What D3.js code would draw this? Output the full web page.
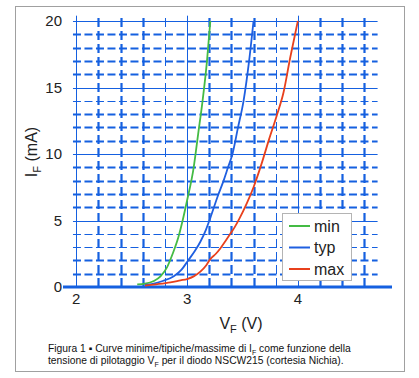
<!DOCTYPE html>
<html><head><meta charset="utf-8">
<script src="https://cdn.jsdelivr.net/npm/d3@7"></script>
<style>
html,body{margin:0;padding:0;background:#fff;}
svg{display:block;font-family:"Liberation Sans",Arial,sans-serif;}
</style></head>
<body><svg id="c" width="419" height="378"></svg>
<script>
// ---- data ----
const seriesNames = ["min", "typ", "max"];
const minCurve = [[2.55,0.2],[2.62,0.25],[2.70,0.45],[2.76,0.8],[2.82,1.5],[2.87,2.5],[2.92,3.7],[2.96,5.0],[3.00,6.5],[3.06,9.0],[3.10,11.5],[3.14,14.0],[3.18,17.0],[3.21,20.0]];
const typCurve = [[2.62,0.15],[2.70,0.25],[2.78,0.45],[2.88,0.8],[2.95,1.3],[3.01,2.0],[3.07,2.7],[3.12,3.4],[3.17,4.3],[3.21,5.2],[3.28,6.9],[3.33,8.0],[3.37,9.0],[3.41,10.0],[3.46,12.0],[3.51,14.0],[3.56,17.0],[3.60,20.0]];
const maxCurve = [[2.62,0.1],[2.72,0.2],[2.85,0.35],[2.94,0.5],[3.00,0.6],[3.06,0.8],[3.12,1.15],[3.17,1.6],[3.21,2.1],[3.26,2.5],[3.30,2.9],[3.35,3.5],[3.39,4.0],[3.43,4.5],[3.47,5.1],[3.54,6.3],[3.60,7.5],[3.67,9.2],[3.74,11.1],[3.81,12.9],[3.87,14.6],[3.93,17.2],[4.00,20.0]];
const xTickLabels = [2, 3, 4];
const yTickLabels = [0, 5, 10, 15, 20];
const xGridValues = [2.0,2.2,2.4,2.6,2.8,3.0,3.2,3.4,3.6,3.8,4.0,4.2,4.4,4.6];
const yGridValues = d3.range(1, 21);
const xTitle = ["V", "F", " (V)"];
const yTitle = ["I", "F", " (mA)"];
const caption1 = ["Figura 1 ▪ Curve minime/tipiche/massime di I", "F", " come funzione della"];
const caption2 = ["tensione di pilotaggio V", "F", " per il diodo NSCW215 (cortesia Nichia)."];

// ---- drawing ----
const svg = d3.select("#c");
const grid = "#1560e0";
const colors = {min:"#44bb44", typ:"#1f5fe0", max:"#e8401c"};
const curves = {min:minCurve, typ:typCurve, max:maxCurve};

const x = d3.scaleLinear().domain([1.88, 4.85]).range([63, 392]);
const y = d3.scaleLinear().domain([0, 20]).range([287, 21]);

// frame
svg.append("rect").attr("x",15.5).attr("y",6.5).attr("width",389).attr("height",365)
  .attr("fill","#fff").attr("stroke","#a0a0a0").attr("stroke-width",1);

const thinMinorY = new Set([14, 4, 3]);
const thinMinorX = new Set([2.8, 3.8]);
const isMajorX = v => Math.abs(v - Math.round(v)) < 1e-6;

// horizontal grid
svg.append("g").selectAll("line").data(yGridValues).join("line")
  .attr("x1", x(1.97)).attr("x2", x(4.72))
  .attr("y1", d => Math.round(y(d))+0.5).attr("y2", d => Math.round(y(d))+0.5)
  .attr("stroke", grid)
  .attr("stroke-width", d => (d % 5 === 0 || thinMinorY.has(d)) ? 1 : 2.2)
  .attr("stroke-dasharray", d => d % 5 === 0 ? null : "8,3.5");

// vertical grid
svg.append("g").selectAll("line").data(xGridValues).join("line")
  .attr("x1", d => Math.round(x(d))+0.5).attr("x2", d => Math.round(x(d))+0.5)
  .attr("y1", y(0)).attr("y2", y(20.4))
  .attr("stroke", grid)
  .attr("stroke-width", d => (isMajorX(d) || thinMinorX.has(+d.toFixed(1))) ? 1 : 2.2)
  .attr("stroke-dasharray", d => isMajorX(d) ? null : "9,4");

// x axis line (thick)
svg.append("line").attr("x1", x(1.88)).attr("x2", x(4.85))
  .attr("y1", y(0)).attr("y2", y(0)).attr("stroke", grid).attr("stroke-width", 3.2);

// curves
const line = d3.line().x(d => x(d[0])).y(d => y(d[1])).curve(d3.curveMonotoneX);
svg.append("g").selectAll("path").data(seriesNames).join("path")
  .attr("d", n => line(curves[n]))
  .attr("fill","none").attr("stroke", n => colors[n]).attr("stroke-width", 1.8);

// tick labels
svg.append("g").selectAll("text").data(yTickLabels).join("text")
  .attr("x", 62).attr("y", d => y(d)).attr("dy", "0.36em")
  .attr("text-anchor","end").attr("font-size", 15).attr("fill","#222").text(d => d);
svg.append("g").selectAll("text").data(xTickLabels).join("text")
  .attr("x", d => x(d)).attr("y", 304)
  .attr("text-anchor","middle").attr("font-size", 15).attr("fill","#222").text(d => d);

// subscript helper
function subText(sel, parts, size, subSize) {
  sel.append("tspan").text(parts[0]);
  sel.append("tspan").attr("font-size", subSize).attr("dy", size*0.28).text(parts[1]);
  sel.append("tspan").attr("dy", -size*0.28).text(parts[2]);
}

// axis titles
const xt = svg.append("text").attr("x", 241).attr("y", 329).attr("text-anchor","middle")
  .attr("font-size", 16).attr("fill","#222");
subText(xt, xTitle, 16, 11);
const yt = svg.append("text").attr("transform","translate(37,152) rotate(-90)").attr("text-anchor","middle")
  .attr("font-size", 16).attr("fill","#222");
subText(yt, yTitle, 16, 11);

// legend
const lg = svg.append("g");
lg.append("rect").attr("x",282.5).attr("y",213.5).attr("width",69).attr("height",67)
  .attr("fill","#fff").attr("stroke","#b4b4b4");
seriesNames.forEach((n,i) => {
  const yy = 226 + i*21.5;
  lg.append("line").attr("x1",289).attr("x2",310).attr("y1",yy).attr("y2",yy)
    .attr("stroke",colors[n]).attr("stroke-width",2);
  lg.append("text").attr("x",314).attr("y",yy).attr("dy","0.36em")
    .attr("font-size",16).attr("fill","#222").text(n);
});

// caption
const c1 = svg.append("text").attr("x",48).attr("y",352).attr("font-size",10.3).attr("fill","#111");
subText(c1, caption1, 10.3, 7);
const c2 = svg.append("text").attr("x",48).attr("y",364).attr("font-size",10.3).attr("fill","#111");
subText(c2, caption2, 10.3, 7);
</script>
</body></html>
